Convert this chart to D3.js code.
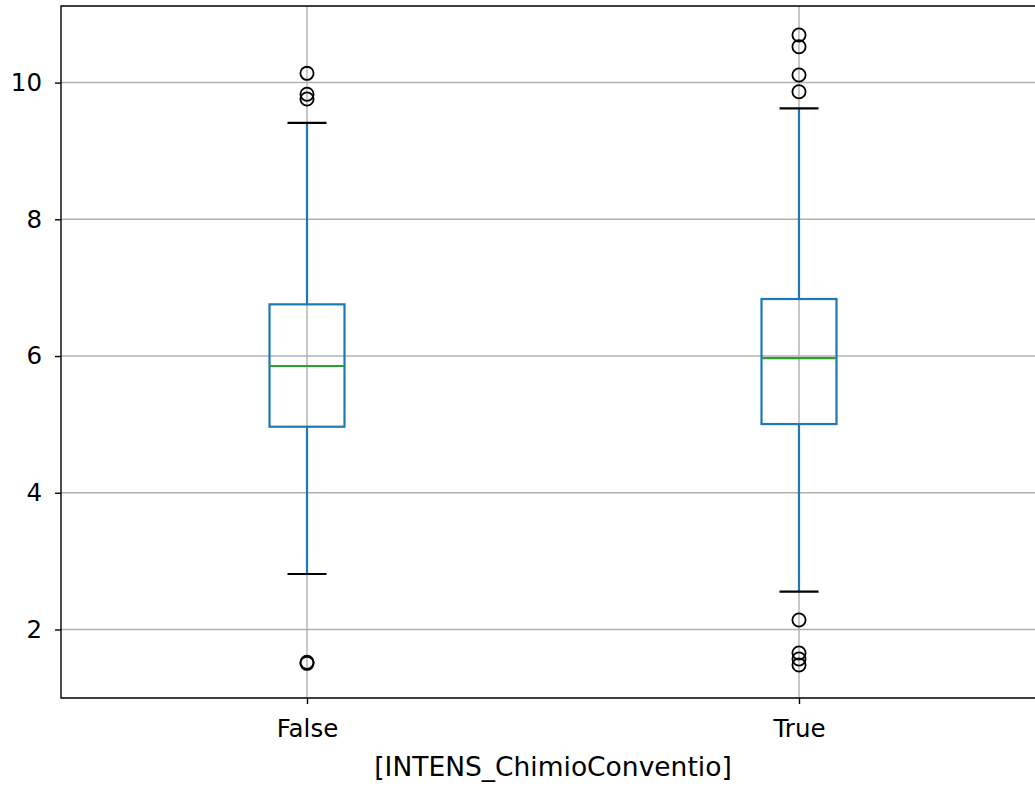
<!DOCTYPE html>
<html>
<head>
<meta charset="utf-8">
<script src="https://cdn.jsdelivr.net/npm/d3@7"></script>
<style>
  body { margin: 0; background: #fff; }
  svg { display: block; font-family: "DejaVu Sans", sans-serif; }
</style>
</head>
<body>
<div id="chart"></div>
<script>
// values
const categories = ['False', 'True'];
const q1 = [4.966, 5.005];
const medians = [5.854, 5.97];
const q3 = [6.756, 6.834];
const whiskerLow = [2.812, 2.553];
const whiskerHigh = [9.41, 9.623];
const fliers = [
  [10.135, 9.83, 9.76, 1.52, 1.505],
  [10.695, 10.524, 10.11, 9.865, 2.139, 1.656, 1.568, 1.48]
];
const yTicks = [2, 4, 6, 8, 10];
const xLabel = '[INTENS_ChimioConventio]';

const W = 1035, H = 789;
const margin = {top: 6, left: 61, bottom: 91};
const plotRight = 1045;   // right spine falls outside the picture

const boxes = categories.map((c, i) => ({
  cat: c, q1: q1[i], med: medians[i], q3: q3[i],
  lo: whiskerLow[i], hi: whiskerHigh[i], fliers: fliers[i]
}));

const svg = d3.select('#chart').append('svg')
    .attr('width', W)
    .attr('height', H);

const x = d3.scalePoint()
    .domain(categories)
    .range([margin.left, plotRight])
    .padding(0.5);

const y = d3.scaleLinear()
    .domain([0.998, 11.12])
    .range([H - margin.bottom, margin.top]);

const boxW = 75, capW = 39;
const blue = '#1f77b4', green = '#2ca02c';

// grid
const grid = svg.append('g').attr('class', 'grid')
    .attr('stroke', '#b0b0b0').attr('stroke-width', 1.4);
grid.selectAll('.gy').data(yTicks).join('line')
    .attr('x1', margin.left).attr('x2', plotRight)
    .attr('y1', d => y(d)).attr('y2', d => y(d));
grid.selectAll('.gx').data(categories).join('line')
    .attr('x1', d => x(d)).attr('x2', d => x(d))
    .attr('y1', margin.top).attr('y2', H - margin.bottom);

// boxes
const g = svg.append('g').attr('class', 'boxes');
const bg = g.selectAll('.box').data(boxes).join('g')
    .attr('class', 'box')
    .attr('transform', d => `translate(${x(d.cat)},0)`);

bg.append('line')
    .attr('y1', d => y(d.q3)).attr('y2', d => y(d.hi))
    .attr('stroke', blue).attr('stroke-width', 2.2);
bg.append('line')
    .attr('y1', d => y(d.q1)).attr('y2', d => y(d.lo))
    .attr('stroke', blue).attr('stroke-width', 2.2);
bg.append('rect')
    .attr('x', -boxW / 2).attr('width', boxW)
    .attr('y', d => y(d.q3)).attr('height', d => y(d.q1) - y(d.q3))
    .attr('fill', 'none').attr('stroke', blue).attr('stroke-width', 2.2);
bg.append('line')
    .attr('x1', -boxW / 2).attr('x2', boxW / 2)
    .attr('y1', d => y(d.med)).attr('y2', d => y(d.med))
    .attr('stroke', green).attr('stroke-width', 2.2);
bg.selectAll('.cap').data(d => [d.lo, d.hi]).join('line')
    .attr('x1', -capW / 2).attr('x2', capW / 2)
    .attr('y1', d => y(d)).attr('y2', d => y(d))
    .attr('stroke', '#000').attr('stroke-width', 2.2);
bg.selectAll('.flier').data(d => d.fliers).join('circle')
    .attr('cy', d => y(d)).attr('r', 6.6)
    .attr('fill', 'none').attr('stroke', '#000').attr('stroke-width', 1.8);

// axes
const yAxis = svg.append('g')
    .attr('transform', `translate(${margin.left},0)`)
    .call(d3.axisLeft(y).tickValues(yTicks).tickSize(6).tickPadding(13));
const xAxis = svg.append('g')
    .attr('transform', `translate(0,${H - margin.bottom})`)
    .call(d3.axisBottom(x).tickSize(6).tickPadding(16));

[yAxis, xAxis].forEach(a => {
  a.select('.domain').remove();
  a.selectAll('.tick line').attr('stroke', '#000').attr('stroke-width', 1.4);
  a.selectAll('.tick text').attr('fill', '#000')
      .attr('font-size', 24.5).attr('font-family', 'DejaVu Sans');
});

// spines (left, top, bottom; right is off-picture)
svg.append('path')
    .attr('d', `M${plotRight},${margin.top}H${margin.left}V${H - margin.bottom}H${plotRight}`)
    .attr('fill', 'none').attr('stroke', '#000').attr('stroke-width', 1.4);

svg.append('text')
    .attr('x', x.range()[0] + (plotRight - margin.left) / 2)
    .attr('y', 776)
    .attr('text-anchor', 'middle')
    .attr('font-size', 26.5)
    .attr('fill', '#000')
    .text(xLabel);
</script>
</body>
</html>
